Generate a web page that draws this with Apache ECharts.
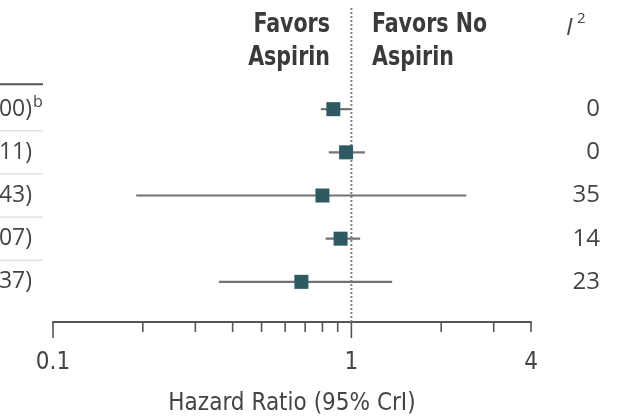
<!DOCTYPE html>
<html><head><meta charset="utf-8">
<script src="https://cdn.jsdelivr.net/npm/echarts@6/dist/echarts.min.js"></script>
<style>html,body{margin:0;background:#fff}#c{width:618px;height:419px}</style>
</head><body><div id="c"></div>
<script>
// Pooled hazard ratios with 95% credible intervals, one row per analysis
const hazardRatio = [0.87, 0.96, 0.80, 0.92, 0.68];
const lowerCrI    = [0.79, 0.84, 0.19, 0.82, 0.36];
const upperCrI    = [1.00, 1.11, 2.43, 1.07, 1.37];
const iSquared    = ['0', '0', '35', '14', '23'];
const footnotes   = ['b', '', '', '', ''];
// Log-scale axis marks
const axisTicks      = [0.1, 0.2, 0.3, 0.4, 0.5, 0.6, 0.7, 0.8, 0.9, 1, 2, 3, 4];
const axisTickLabels = ['0.1', '1', '4'];

const FONT = '"DejaVu Sans Condensed", "Liberation Sans Narrow", sans-serif';
const BODY = '"Open Sans", "DejaVu Sans", sans-serif';
const TEXT = '#454545';
const HEAD = '#3a3a3a';

const rows = hazardRatio.map((hr, i) => [hr, i, lowerCrI[i], upperCrI[i]]);
const fmt = v => v.toFixed(2);

function headText(x, y, text, align) {
  return { type: 'text', x: x, y: y, scaleX: 0.88,
    style: { text: text, align: align, verticalAlign: 'middle', font: 'bold 26px ' + FONT, fill: HEAD } };
}

const chart = echarts.init(document.getElementById('c'));
chart.setOption({
  animation: false,
  grid: { left: 53, right: 87, top: 66, bottom: 97, containLabel: false, outerBoundsMode: 'none' },
  xAxis: {
    type: 'log', logBase: 10, min: 0.1, max: 4,
    axisLine: { show: true, onZero: false, lineStyle: { color: '#555', width: 1.8 } },
    axisTick: { show: false }, axisLabel: { show: false }, splitLine: { show: false },
    name: 'Hazard Ratio (95% CrI)', nameLocation: 'middle', nameGap: 82,
    nameTextStyle: { fontFamily: FONT, fontSize: 24, color: TEXT, verticalAlign: 'middle' }
  },
  yAxis: {
    type: 'value', inverse: true, min: -1, max: 4.93,
    axisLine: { show: false }, axisTick: { show: false },
    axisLabel: { show: false }, splitLine: { show: false }
  },
  series: [
    {
      // row labels, separators and heterogeneity column
      type: 'custom', clip: false, z: 1,
      data: rows,
      renderItem(params, api) {
        const i = api.value(1);
        const y = api.coord([1, i])[1];
        const yTop = api.coord([1, i - 0.58])[1];
        const yBot = api.coord([1, i + 0.5])[1];
        const kids = [];
        if (i === 0) {
          kids.push({ type: 'line', shape: { x1: 0, y1: yTop, x2: 43, y2: yTop },
            style: { stroke: '#555', lineWidth: 2 } });
        }
        if (i < rows.length - 1) {
          kids.push({ type: 'line', shape: { x1: 0, y1: yBot, x2: 43, y2: yBot },
            style: { stroke: '#d4d4d4', lineWidth: 1 } });
        }
        const idx = params.dataIndex;
        kids.push({ type: 'text', x: 32, y: y,
          style: { text: fmt(hazardRatio[idx]) + ' (' + fmt(lowerCrI[idx]) + '-' + fmt(upperCrI[idx]) + ')',
            align: 'right', verticalAlign: 'middle', font: '23px ' + BODY, fill: TEXT } });
        if (footnotes[idx]) {
          kids.push({ type: 'text', x: 33, y: y - 7,
            style: { text: footnotes[idx], align: 'left', verticalAlign: 'middle',
              font: '16px ' + BODY, fill: TEXT } });
        }
        kids.push({ type: 'text', x: 600, y: y,
          style: { text: iSquared[idx], align: 'right', verticalAlign: 'middle',
            font: '24px ' + BODY, fill: TEXT } });
        return { type: 'group', children: kids };
      }
    },
    {
      // credible interval whiskers
      type: 'custom', clip: false, z: 2,
      data: rows,
      renderItem(params, api) {
        const i = api.value(1);
        const l = api.coord([api.value(2), i]);
        const h = api.coord([api.value(3), i]);
        return { type: 'line', shape: { x1: l[0], y1: l[1], x2: h[0], y2: h[1] },
          style: { stroke: '#727272', lineWidth: 2.2 } };
      }
    },
    {
      // line of no effect
      type: 'custom', clip: false, z: 3,
      data: [[1, 4.93]],
      renderItem(params, api) {
        const p = api.coord([api.value(0), api.value(1)]);
        return { type: 'line', shape: { x1: p[0], y1: 8, x2: p[0], y2: p[1] },
          style: { stroke: '#808080', lineWidth: 2, lineDash: [2, 2] } };
      }
    },
    {
      // point estimates
      type: 'custom', clip: false, z: 4,
      data: rows,
      renderItem(params, api) {
        const c = api.coord([api.value(0), api.value(1)]);
        return { type: 'rect', shape: { x: c[0] - 7, y: c[1] - 7, width: 14, height: 14 },
          style: { fill: '#2e5a64' } };
      }
    },
    {
      // axis ticks and labels
      type: 'custom', clip: false, z: 5,
      data: axisTicks.map(v => [v, 4.93]),
      renderItem(params, api) {
        const v = api.value(0);
        const p = api.coord([v, api.value(1)]);
        const label = axisTickLabels.indexOf(String(v)) >= 0;
        const len = (v === 0.1 || v === 1) ? 16 : 10;
        const kids = [{ type: 'line', shape: { x1: p[0], y1: p[1], x2: p[0], y2: p[1] + len },
          style: { stroke: '#555', lineWidth: 1.6 } }];
        if (label) {
          kids.push({ type: 'text', x: p[0], y: p[1] + 41,
            style: { text: String(v), align: 'center', verticalAlign: 'middle',
              font: '24px ' + FONT, fill: TEXT } });
        }
        return { type: 'group', children: kids };
      }
    }
  ],
  graphic: [
    headText(330, 25, 'Favors', 'right'),
    headText(330, 58, 'Aspirin', 'right'),
    headText(372, 25, 'Favors No', 'left'),
    headText(372, 58, 'Aspirin', 'left'),
    { type: 'text', x: 566, y: 28, style: { text: 'I', align: 'left', verticalAlign: 'middle',
      font: 'italic 24px ' + BODY, fill: TEXT } },
    { type: 'text', x: 577, y: 19, style: { text: '2', align: 'left', verticalAlign: 'middle',
      font: '15px ' + BODY, fill: TEXT } }
  ]
});
</script></body></html>
